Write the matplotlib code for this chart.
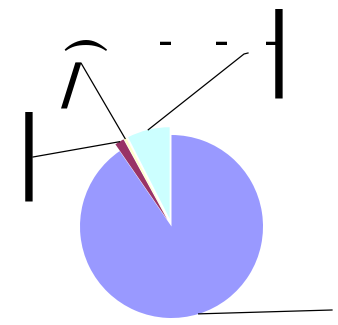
import math

import matplotlib

matplotlib.use("Agg")
import matplotlib.pyplot as plt

# slice shares in percent, clockwise from 12 o'clock
categories = ["Series A", "Series B", "Series C", "Series D"]
values = [90.4, 1.65, 0.45, 7.5]
labels = ["", "|", "/", "|"]

colors = ["#9999FF", "#993366", "#FFFFCC", "#CCFFFF"]
explode = [0, 8, 8, 8]

W, H = 338, 325


def img(x, y):
    """image pixel position (y down) -> data position (y up)"""
    return x, H - y


fig = plt.figure(figsize=(W / 100, H / 100), dpi=100)
ax = fig.add_axes([0, 0, 1, 1])
wedges, _ = ax.pie(
    values,
    colors=colors,
    explode=explode,
    startangle=90,
    counterclock=False,
    radius=91.5,
    center=img(171.5, 226.5),
)
ax.set_xlim(0, W)
ax.set_ylim(0, H)
ax.set_aspect("equal")
ax.axis("off")

# leader line elbows / ends, one per slice (image pixels)
leader_ends = [
    [(332, 310)],
    [(33, 157)],
    [(81, 63), (76, 63)],
    [(244, 54), (248, 53)],
]
for wedge, ends in zip(wedges, leader_ends):
    mid = math.radians((wedge.theta1 + wedge.theta2) / 2)
    cx, cy = wedge.center
    start = (cx + wedge.r * math.cos(mid), cy + wedge.r * math.sin(mid))
    pts = [start] + [img(*p) for p in ends]
    ax.plot([p[0] for p in pts], [p[1] for p in pts], color="black", lw=0.9)

label_spots = [(360, 310), (28.5, 156.5), (71, 87), (278.5, 53.5)]
label_sizes = [64, 64, 40, 64]
label_weights = ["normal", "normal", "bold", "normal"]
for text, spot, size, weight in zip(labels, label_spots, label_sizes, label_weights):
    ax.text(*img(*spot), text, fontsize=size, fontweight=weight,
            ha="center", va="center", color="black")

# stray bits of the oversized label text
ax.text(*img(85, 46), "\u2322", fontsize=32, fontweight="bold",
        ha="center", va="center", family=["STIXGeneral", "DejaVu Sans"])
for x in (166, 222, 272):
    ax.text(*img(x, 43), "-", fontsize=30, ha="center", va="center")

fig.savefig("out.png", dpi=100)
